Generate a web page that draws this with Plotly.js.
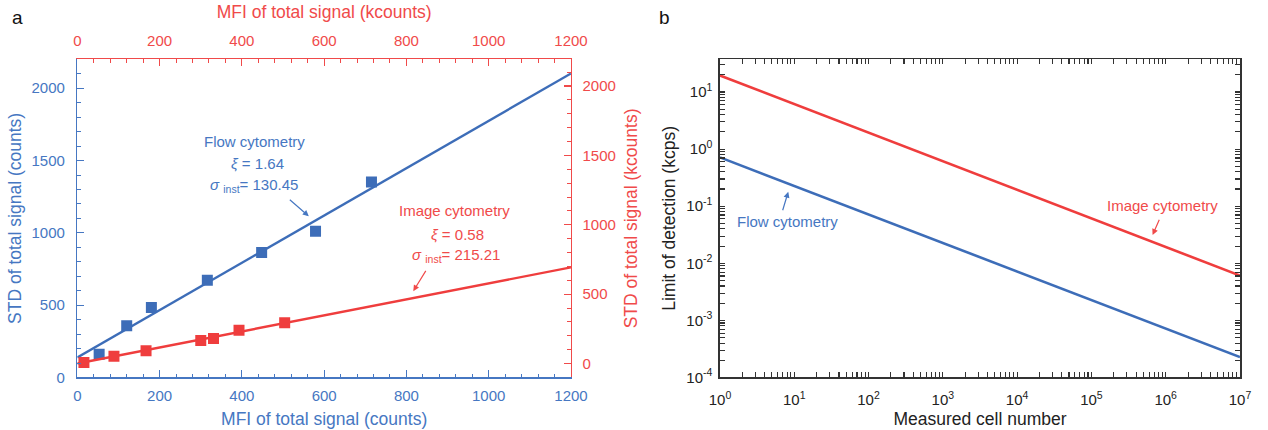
<!DOCTYPE html>
<html>
<head>
<meta charset="utf-8">
<script src="https://cdn.plot.ly/plotly-3.0.1.min.js"></script>
<style>html,body{margin:0;padding:0;background:#fff;}#chart{width:1268px;height:430px;}</style>
</head>
<body>
<div id="chart"></div>
<script>
// ---- Panel a data ----
const flowMFI = [53, 120, 180, 316, 448, 579, 715];          // counts
const flowSTD = [161, 357, 484, 673, 864, 1012, 1351];       // counts
const flowFitX = [0, 1200];
const flowFitY = [138, 2102];
const imageMFI = [16, 89, 167, 300, 331, 393, 504];          // kcounts
const imageSTD = [7, 53, 91, 166, 180, 240, 293];            // kcounts
const imageFitX = [0, 1200];
const imageFitY = [0, 693];

// ---- Panel b data ----
const cellNumber = [1, 1e7];
const flowLOD = [0.716, 0.000228];
const imageLOD = [19.5, 0.0061];
const logXTickVals = [1, 10, 100, 1e3, 1e4, 1e5, 1e6, 1e7];
const logXTickText = ['10<sup>0</sup>','10<sup>1</sup>','10<sup>2</sup>','10<sup>3</sup>','10<sup>4</sup>','10<sup>5</sup>','10<sup>6</sup>','10<sup>7</sup>'];
const logYTickVals = [1e-4, 1e-3, 1e-2, 1e-1, 1, 10];
const logYTickText = ['10<sup>-4</sup>','10<sup>-3</sup>','10<sup>-2</sup>','10<sup>-1</sup>','10<sup>0</sup>','10<sup>1</sup>'];
const minorMultipliers = [2, 3, 4, 5, 6, 7, 8, 9];

function minorLogTicks(decades) {
  const out = [];
  decades.forEach(d => minorMultipliers.forEach(m => out.push(d * m)));
  return out;
}
const xMinor = minorLogTicks([1, 10, 100, 1e3, 1e4, 1e5, 1e6]);
const yMinor = minorLogTicks([1e-4, 1e-3, 1e-2, 1e-1, 1, 10]);
const xAllTicks = logXTickVals.concat(xMinor);
const xAllText = logXTickText.concat(xMinor.map(() => ''));
const yAllTicks = logYTickVals.concat(yMinor);
const yAllText = logYTickText.concat(yMinor.map(() => ''));

const BLUE = '#3d6db8';
const BLUE_T = '#4677c2';
const RED = '#ef3d3d';
const RED_T = '#f04a4a';
const DARK = '#333333';
const FONT = 'Arial, "Liberation Sans", sans-serif';

const traces = [
  {x: flowFitX, y: flowFitY, type: 'scatter', mode: 'lines', line: {color: BLUE, width: 2.4}, xaxis: 'x', yaxis: 'y', hoverinfo: 'skip'},
  {x: flowMFI, y: flowSTD, type: 'scatter', mode: 'markers', marker: {symbol: 'square', size: 11, color: BLUE}, xaxis: 'x', yaxis: 'y'},
  {x: imageFitX, y: imageFitY, type: 'scatter', mode: 'lines', line: {color: RED, width: 2.4}, xaxis: 'x2', yaxis: 'y2', hoverinfo: 'skip'},
  {x: imageMFI, y: imageSTD, type: 'scatter', mode: 'markers', marker: {symbol: 'square', size: 11, color: RED}, xaxis: 'x2', yaxis: 'y2'},
  {x: cellNumber, y: imageLOD, type: 'scatter', mode: 'lines', line: {color: RED, width: 2.6}, xaxis: 'x3', yaxis: 'y3'},
  {x: cellNumber, y: flowLOD, type: 'scatter', mode: 'lines', line: {color: BLUE, width: 2.6}, xaxis: 'x3', yaxis: 'y3'}
];

const tickF = (c) => ({family: FONT, size: 15, color: c});
const titleF = (c) => ({family: FONT, size: 17.5, color: c});

const layout = {
  width: 1268, height: 430,
  margin: {l: 0, r: 0, t: 0, b: 0},
  paper_bgcolor: '#fff', plot_bgcolor: 'rgba(0,0,0,0)',
  showlegend: false,
  font: {family: FONT},
  xaxis: {
    domain: [0.061, 0.4503], anchor: 'y', range: [0, 1200],
    dtick: 200, tick0: 0, ticks: 'inside', ticklen: 7, tickwidth: 1.2, tickcolor: BLUE_T,
    minor: {dtick: 40, ticks: 'inside', ticklen: 3.5, tickwidth: 1, tickcolor: BLUE_T},
    showline: true, linecolor: BLUE_T, linewidth: 1.5, showgrid: false, zeroline: false,
    tickfont: tickF(BLUE_T), ticklabelstandoff: 4,
    title: {text: 'MFI of total signal (counts)', font: titleF(BLUE_T), standoff: 10}
  },
  yaxis: {
    domain: [0.1221, 0.8621], anchor: 'x', range: [0, 2200],
    dtick: 500, tick0: 0, ticks: 'inside', ticklen: 7, tickwidth: 1.2, tickcolor: BLUE_T,
    minor: {dtick: 100, ticks: 'inside', ticklen: 3.5, tickwidth: 1, tickcolor: BLUE_T},
    showline: true, linecolor: BLUE_T, linewidth: 1.5, showgrid: false, zeroline: false,
    tickfont: tickF(BLUE_T), ticklabelstandoff: 8,
    title: {text: 'STD of total signal (counts)', font: titleF(BLUE_T), standoff: 5}
  },
  xaxis2: {
    overlaying: 'x', side: 'top', anchor: 'y', range: [0, 1200],
    dtick: 200, tick0: 0, ticks: 'inside', ticklen: 7, tickwidth: 1.2, tickcolor: RED_T,
    minor: {dtick: 40, ticks: 'inside', ticklen: 3.5, tickwidth: 1, tickcolor: RED_T},
    showline: true, linecolor: RED_T, linewidth: 1.5, showgrid: false, zeroline: false,
    tickfont: tickF(RED_T), ticklabelstandoff: 6,
    title: {text: 'MFI of total signal (kcounts)', font: titleF(RED_T), standoff: 8}
  },
  yaxis2: {
    overlaying: 'y', side: 'right', anchor: 'x', range: [-101, 2193],
    dtick: 500, tick0: 0, ticks: 'inside', ticklen: 7, tickwidth: 1.2, tickcolor: RED_T,
    minor: {dtick: 100, ticks: 'inside', ticklen: 3.5, tickwidth: 1, tickcolor: RED_T},
    showline: true, linecolor: RED_T, linewidth: 1.5, showgrid: false, zeroline: false,
    tickfont: tickF(RED_T), ticklabelstandoff: 7,
    title: {text: 'STD of total signal (kcounts)', font: titleF(RED_T), standoff: 10}
  },
  xaxis3: {
    domain: [0.5678, 0.9779], anchor: 'y3', type: 'log', range: [0, 7],
    tickmode: 'array', tickvals: xAllTicks, ticktext: xAllText,
    ticks: 'inside', ticklen: 5, tickwidth: 1.1, tickcolor: DARK, mirror: 'ticks',
    showline: true, linecolor: DARK, linewidth: 1.6, showgrid: false, zeroline: false,
    tickfont: tickF('#222'), ticklabelstandoff: 8,
    title: {text: 'Measured cell number', font: titleF('#222'), standoff: 5}
  },
  yaxis3: {
    domain: [0.1221, 0.8621], anchor: 'x3', type: 'log', range: [-4, 1.573],
    tickmode: 'array', tickvals: yAllTicks, ticktext: yAllText,
    ticks: 'inside', ticklen: 5, tickwidth: 1.1, tickcolor: DARK, mirror: 'ticks',
    showline: true, linecolor: DARK, linewidth: 1.6, showgrid: false, zeroline: false,
    tickfont: tickF('#222'), ticklabelstandoff: 3,
    title: {text: 'Limit of detection (kcps)', font: titleF('#222'), standoff: 6}
  },
  annotations: [
    {text: 'a', xref: 'paper', yref: 'paper', x: 17/1268, y: 1 - 17/430, showarrow: false, font: {family: FONT, size: 19, color: '#111'}, xanchor: 'center', yanchor: 'middle'},
    {text: 'b', xref: 'paper', yref: 'paper', x: 664/1268, y: 1 - 17/430, showarrow: false, font: {family: FONT, size: 19, color: '#111'}, xanchor: 'center', yanchor: 'middle'},
    // panel a, flow cytometry
    {text: 'Flow cytometry', xref: 'x', yref: 'y', x: 429.5, y: 1629, showarrow: false, font: {family: FONT, size: 15, color: BLUE_T}},
    {text: '<i>ξ</i> = 1.64', xref: 'x', yref: 'y', x: 436.8, y: 1480, showarrow: false, font: {family: FONT, size: 15, color: BLUE_T}},
    {text: '<i>σ</i> <sub>inst</sub>= 130.45', xref: 'x', yref: 'y', x: 429.5, y: 1326, showarrow: false, font: {family: FONT, size: 15, color: BLUE_T}},
    {text: '', xref: 'x', yref: 'y', x: 562.7, y: 1115, ax: -20.5, ay: -17.7, showarrow: true, arrowhead: 2, arrowsize: 1, arrowwidth: 1.2, arrowcolor: BLUE_T},
    // panel a, image cytometry
    {text: 'Image cytometry', xref: 'x', yref: 'y', x: 918, y: 1152, showarrow: false, font: {family: FONT, size: 15, color: RED_T}},
    {text: '<i>ξ</i> = 0.58', xref: 'x', yref: 'y', x: 924.6, y: 989, showarrow: false, font: {family: FONT, size: 15, color: RED_T}},
    {text: '<i>σ</i> <sub>inst</sub>= 215.21', xref: 'x', yref: 'y', x: 919.8, y: 846, showarrow: false, font: {family: FONT, size: 15, color: RED_T}},
    {text: '', xref: 'x2', yref: 'y2', x: 816.7, y: 521.6, ax: 13.4, ay: -21.7, showarrow: true, arrowhead: 2, arrowsize: 1, arrowwidth: 1.2, arrowcolor: RED_T},
    // panel b
    {text: 'Flow cytometry', xref: 'x3', yref: 'y3', x: 0.915, y: -1.271, showarrow: false, font: {family: FONT, size: 15, color: BLUE_T}},
    {text: '', xref: 'x3', yref: 'y3', x: 0.919, y: -0.747, ax: -6, ay: 20, showarrow: true, arrowhead: 2, arrowsize: 1, arrowwidth: 1.2, arrowcolor: BLUE_T},
    {text: 'Image cytometry', xref: 'x3', yref: 'y3', x: 5.963, y: -0.979, showarrow: false, font: {family: FONT, size: 15, color: RED_T}},
    {text: '', xref: 'x3', yref: 'y3', x: 5.824, y: -1.503, ax: 7.3, ay: -16.7, showarrow: true, arrowhead: 2, arrowsize: 1, arrowwidth: 1.2, arrowcolor: RED_T}
  ]
};

Plotly.newPlot('chart', traces, layout, {staticPlot: true, displayModeBar: false});
</script>
</body>
</html>
